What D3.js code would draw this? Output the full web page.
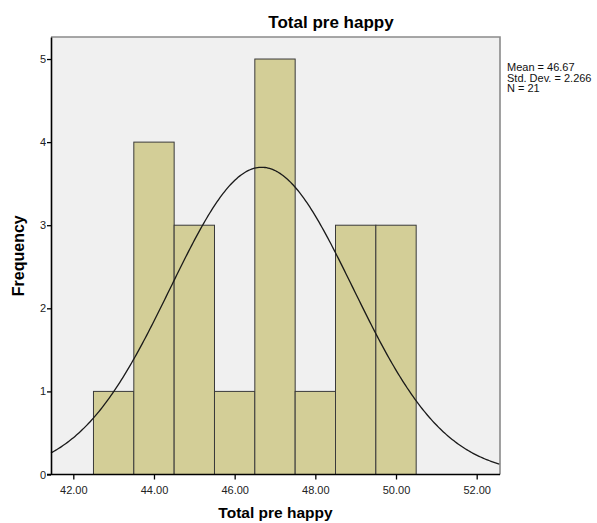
<!DOCTYPE html>
<html>
<head>
<meta charset="utf-8">
<script src="https://cdn.jsdelivr.net/npm/d3@7"></script>
<style>
  html, body { margin: 0; padding: 0; background: #ffffff; }
  svg { display: block; font-family: "Liberation Sans", Arial, sans-serif; }
</style>
</head>
<body>
<svg id="chart" width="597" height="523"></svg>
<script>
// Histogram of "Total pre happy" with a fitted normal curve
const binStarts = [42.5, 43.5, 44.5, 45.5, 46.5, 47.5, 48.5, 49.5];
const binWidth = 1;
const frequencies = [1, 4, 3, 1, 5, 1, 3, 3];
const xTicks = [42, 44, 46, 48, 50, 52];
const yTicks = [0, 1, 2, 3, 4, 5];
const mean = 46.67;
const stdDev = 2.266;
const n = 21;
const statLines = ["Mean = 46.67", "Std. Dev. = 2.266", "N = 21"];

const svg = d3.select("#chart");
const plot = { left: 51, right: 500, top: 37, bottom: 474.5 };

const x = d3.scaleLinear().domain([41.447, 52.578]).range([plot.left, plot.right]);
const y = d3.scaleLinear().domain([0, 5.265]).range([plot.bottom, plot.top]);

// plot background
svg.append("rect")
  .attr("x", plot.left).attr("y", plot.top)
  .attr("width", plot.right - plot.left).attr("height", plot.bottom - plot.top)
  .attr("fill", "#f0f0f0");

// bars
const bins = binStarts.map((s, i) => ({ x0: s, x1: s + binWidth, count: frequencies[i] }));
svg.append("g").selectAll("rect").data(bins).join("rect")
  .attr("x", d => x(d.x0))
  .attr("y", d => y(d.count))
  .attr("width", d => x(d.x1) - x(d.x0))
  .attr("height", d => y(0) - y(d.count))
  .attr("fill", "#d3ce97")
  .attr("stroke", "#3a3a3a")
  .attr("stroke-width", 1);

// normal curve scaled to counts
const pdf = v => Math.exp(-0.5 * ((v - mean) / stdDev) ** 2) / (stdDev * Math.sqrt(2 * Math.PI));
const curvePts = d3.range(0, 301).map(i => {
  const v = x.domain()[0] + (x.domain()[1] - x.domain()[0]) * i / 300;
  return [v, n * binWidth * pdf(v)];
});
svg.append("path")
  .datum(curvePts)
  .attr("fill", "none")
  .attr("stroke", "#1a1a1a")
  .attr("stroke-width", 1.3)
  .attr("d", d3.line().x(d => x(d[0])).y(d => y(d[1])));

// top and right frame lines
svg.append("path")
  .attr("d", `M${plot.left},${plot.top}H${plot.right}V${plot.bottom}`)
  .attr("fill", "none")
  .attr("stroke", "#8a8a8a")
  .attr("stroke-width", 1.6);

// axes
const xAxis = svg.append("g")
  .attr("transform", `translate(0,${plot.bottom})`)
  .call(d3.axisBottom(x).tickValues(xTicks).tickFormat(d3.format(".2f")).tickSize(5).tickSizeOuter(0));
const yAxis = svg.append("g")
  .attr("transform", `translate(${plot.left},0)`)
  .call(d3.axisLeft(y).tickValues(yTicks).tickFormat(d3.format("d")).tickSize(4).tickSizeOuter(0));

[xAxis, yAxis].forEach(g => {
  g.select(".domain").attr("stroke", "#000").attr("stroke-width", 1.6);
  g.selectAll(".tick line").attr("stroke", "#000").attr("stroke-width", 1.3);
  g.selectAll(".tick text").attr("fill", "#222").attr("font-size", 11)
    .attr("font-family", "'Liberation Sans', Arial, sans-serif");
});
// extend the x axis line to meet the y-axis tick overhang
xAxis.select(".domain").attr("d", `M${plot.left - 4},0H${plot.right}`);
xAxis.selectAll(".tick text").attr("dy", "1.0em");
yAxis.selectAll(".tick text").attr("x", -5);

// titles
svg.append("text")
  .attr("x", 331).attr("y", 28)
  .attr("text-anchor", "middle")
  .attr("font-size", 17).attr("font-weight", "bold").attr("fill", "#000")
  .text("Total pre happy");

svg.append("text")
  .attr("x", (plot.left + plot.right) / 2).attr("y", 518)
  .attr("text-anchor", "middle")
  .attr("font-size", 15.5).attr("font-weight", "bold").attr("fill", "#000")
  .text("Total pre happy");

svg.append("text")
  .attr("transform", `translate(24,${(plot.top + plot.bottom) / 2}) rotate(-90)`)
  .attr("text-anchor", "middle")
  .attr("font-size", 16).attr("font-weight", "bold").attr("fill", "#000")
  .text("Frequency");

// summary statistics
svg.append("g").selectAll("text").data(statLines).join("text")
  .attr("x", 507)
  .attr("y", (d, i) => 71 + i * 10.5)
  .attr("font-size", 11).attr("fill", "#111")
  .text(d => d);
</script>
</body>
</html>
